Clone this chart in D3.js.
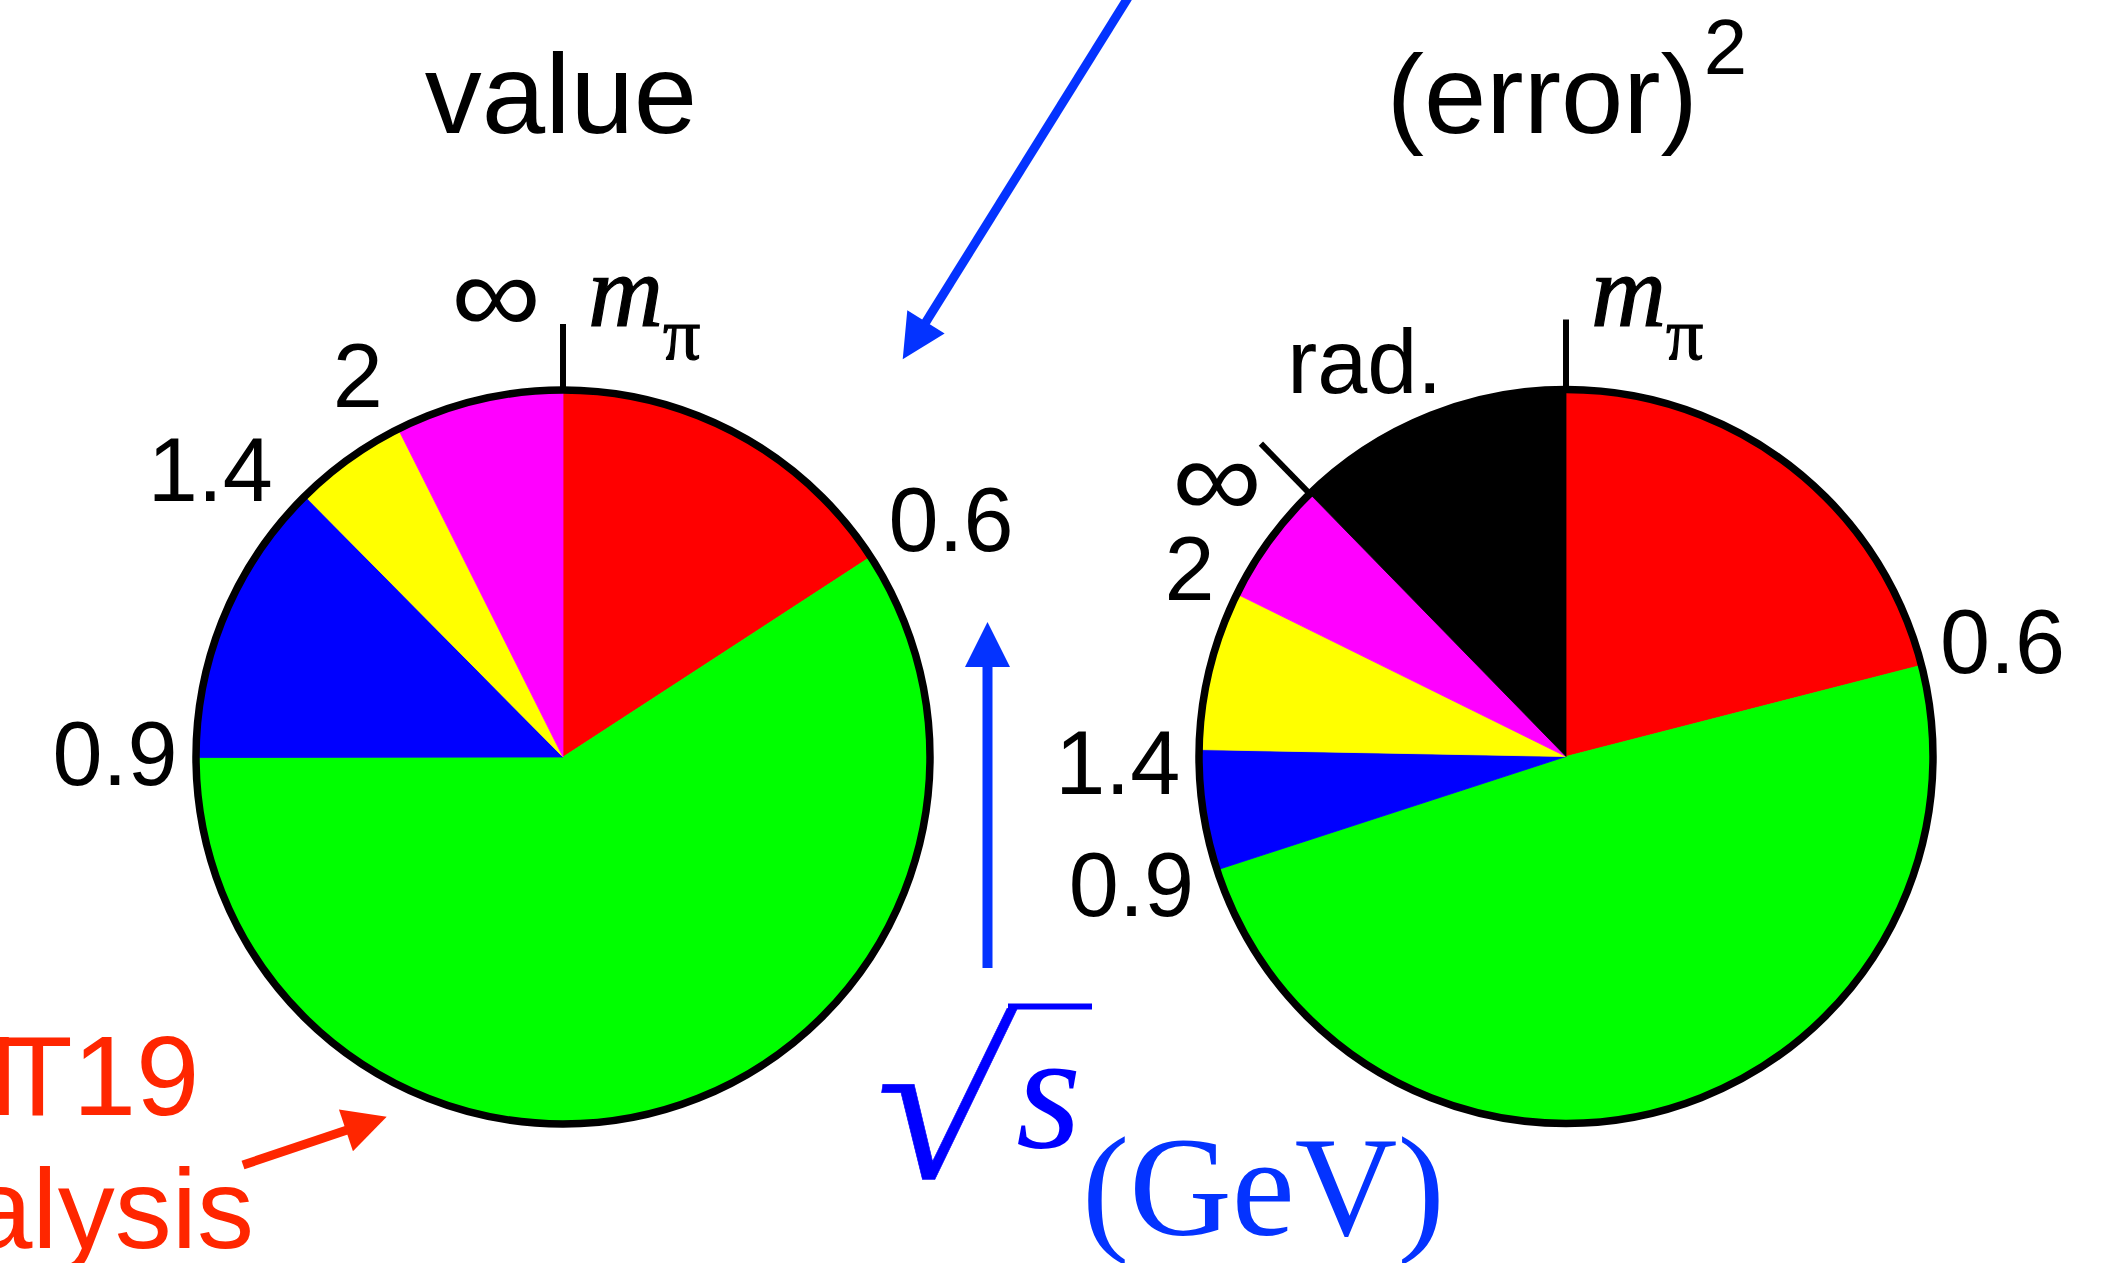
<!DOCTYPE html>
<html>
<head>
<meta charset="utf-8">
<script src="https://cdn.jsdelivr.net/npm/d3@7"></script>
<style>
  html, body { margin: 0; padding: 0; background: #fff; }
  svg { display: block; }
</style>
</head>
<body>
<script>
// Contribution of each √s range (GeV) to the hadronic result:
// share of the central value and share of the squared error.
const energyRanges   = ["mπ–0.6", "0.6–0.9", "0.9–1.4", "1.4–2", "2–∞"];
const boundaryLabels = ["0.6", "0.9", "1.4", "2", "∞"];
const valueShares    = [15.8, 59.1, 12.6, 5.0, 7.4];
const errorRanges    = ["mπ–0.6", "0.6–0.9", "0.9–1.4", "1.4–2", "2–∞", "rad."];
const errorShares    = [21.0, 49.0, 5.3, 7.0, 5.4, 12.3];
const sliceColors    = ["#ff0000", "#00ff00", "#0000ff", "#ffff00", "#ff00ff", "#000000"];

const W = 2126, H = 1263;
const R = 367;
const SANS  = "'Liberation Sans', Arial, Helvetica, sans-serif";
const SERIF = "'Liberation Serif', 'Times New Roman', serif";
const BLUE = "#0433ff", DEEP_BLUE = "#0000ff", RED = "#ff2600";

const svg = d3.select("body").append("svg")
  .attr("width", W).attr("height", H)
  .attr("viewBox", `0 0 ${W} ${H}`);
svg.append("rect").attr("width", W).attr("height", H).attr("fill", "#fff");

const pie = d3.pie().sort(null).value(d => d.share)
  .startAngle(0).endAngle(2 * Math.PI);
const arc = d3.arc().innerRadius(0).outerRadius(R);

// point at angle a (clockwise from 12 o'clock) and distance r from the centre
const polar = (a, r) => [r * Math.sin(a), -r * Math.cos(a)];

function drawPie(cfg) {
  const g = svg.append("g").attr("transform", `translate(${cfg.cx},${cfg.cy})`);
  const data = cfg.ranges.map((r, i) => ({ range: r, share: cfg.shares[i], color: sliceColors[i] }));
  const arcs = pie(data);

  g.selectAll("path.slice").data(arcs).join("path")
    .attr("class", "slice")
    .attr("d", arc)
    .attr("fill", d => d.data.color)
    .attr("stroke", d => d.data.color)
    .attr("stroke-width", 0.8)
    .attr("stroke-linejoin", "round");

  // rim
  g.append("circle").attr("r", R)
    .attr("fill", "none").attr("stroke", "#000").attr("stroke-width", 7.5);

  // ticks at the start (mπ) and at the ∞ boundary
  const tickAngles = [0, arcs[4].endAngle];
  g.selectAll("line.tick").data(tickAngles).join("line")
    .attr("class", "tick")
    .attr("x1", a => polar(a, R)[0]).attr("y1", a => polar(a, R)[1])
    .attr("x2", a => polar(a, R + cfg.tickLen)[0]).attr("y2", a => polar(a, R + cfg.tickLen)[1])
    .attr("stroke", "#000").attr("stroke-width", 6);

  // boundary labels, placed from the slice end angles
  boundaryLabels.forEach((txt, i) => {
    const n = cfg.nudge[i];
    const p = polar(arcs[i].endAngle, n.r || R);
    const lbl = g.append("text")
      .attr("x", p[0] + n.dx).attr("y", p[1] + n.dy)
      .attr("text-anchor", n.anchor)
      .attr("font-family", SANS)
      .attr("fill", "#000")
      .text(txt);
    if (txt === "∞") {
      lbl.attr("font-size", 112).attr("textLength", 90).attr("lengthAdjust", "spacingAndGlyphs");
    } else {
      lbl.attr("font-size", 90);
    }
  });

  // lower edge of the range: mπ
  const m = polar(0, R);
  const t = g.append("text")
    .attr("x", m[0] + 25).attr("y", m[1] - 64)
    .attr("font-family", SERIF).attr("fill", "#000")
    .attr("stroke", "#000").attr("stroke-width", 1.2);
  t.append("tspan").attr("font-style", "italic").attr("font-size", 104).text("m");
  t.append("tspan").attr("font-size", 74).attr("dy", 33).text("π");

  // radiative slice label
  if (cfg.ranges.length > 5) {
    const a = (arcs[5].startAngle + arcs[5].endAngle) / 2;
    const p = polar(a, R);
    g.append("text")
      .attr("x", p[0] - 63).attr("y", p[1] - 24)
      .attr("text-anchor", "middle")
      .attr("font-family", SANS).attr("font-size", 90)
      .attr("fill", "#000")
      .text(arcs[5].data.range);
  }
  return arcs;
}

drawPie({
  cx: 563, cy: 757, ranges: energyRanges, shares: valueShares, tickLen: 66,
  nudge: [
    { anchor: "start", dx: 18,    dy: -5.5 },
    { anchor: "end",   dx: -18.4, dy: 27.4 },
    { anchor: "end",   dx: -32,   dy: 5 },
    { anchor: "end",   dx: -15.5, dy: -22.4 },
    { anchor: "end",   dx: -22,   dy: -57.5 }
  ]
});

drawPie({
  cx: 1566, cy: 756.5, ranges: errorRanges, shares: errorShares, tickLen: 70,
  nudge: [
    { anchor: "start", dx: 18.6,  dy: 8 },
    { anchor: "end",   dx: -23,   dy: 46 },
    { anchor: "end",   dx: -18.7, dy: 44.4 },
    { anchor: "end",   dx: -22.3, dy: 5.5 },
    { anchor: "end",   dx: 1,     dy: 73, r: R + 70 }
  ]
});

// titles
svg.append("text")
  .attr("x", 561).attr("y", 133)
  .attr("text-anchor", "middle")
  .attr("font-family", SANS).attr("font-size", 114)
  .attr("fill", "#000")
  .text("value");

const et = svg.append("text")
  .attr("x", 1567).attr("y", 133)
  .attr("text-anchor", "middle")
  .attr("font-family", SANS).attr("fill", "#000");
et.append("tspan").attr("font-size", 112).text("(error)");
et.append("tspan").attr("font-size", 78).attr("dx", 6).attr("dy", -59).text("2");

// arrow helper: shaft from (x0,y0) to the tip, filled triangular head
function arrow(x0, y0, tipX, tipY, color, width, headLen, headHalf) {
  const dx = tipX - x0, dy = tipY - y0, L = Math.hypot(dx, dy);
  const ux = dx / L, uy = dy / L;
  const bx = tipX - ux * headLen, by = tipY - uy * headLen;
  svg.append("line")
    .attr("x1", x0).attr("y1", y0)
    .attr("x2", bx + ux * 2).attr("y2", by + uy * 2)
    .attr("stroke", color).attr("stroke-width", width);
  svg.append("path")
    .attr("d", d3.line()([
      [tipX, tipY],
      [bx - uy * headHalf, by + ux * headHalf],
      [bx + uy * headHalf, by - ux * headHalf]
    ]) + "Z")
    .attr("fill", color);
}

arrow(1139, -20, 902.7, 359.3, BLUE, 9, 44, 22);
arrow(987.5, 968, 987.5, 622, BLUE, 10, 45, 22.5);
arrow(243, 1165, 386.7, 1116.7, RED, 9, 43, 22);

// √s (GeV): radical stretched and slanted to a math-style proportion
svg.append("text")
  .attr("transform", "matrix(1.243,0,-0.166,1.13,863.3,1178)")
  .attr("font-family", SERIF).attr("font-size", 190)
  .attr("fill", DEEP_BLUE)
  .attr("stroke", DEEP_BLUE).attr("stroke-width", 0.5)
  .text("√");
svg.append("line")
  .attr("x1", 1008).attr("x2", 1092)
  .attr("y1", 1006.5).attr("y2", 1006.5)
  .attr("stroke", DEEP_BLUE).attr("stroke-width", 6);
svg.append("text")
  .attr("x", 1016).attr("y", 1147)
  .attr("font-family", SERIF).attr("font-style", "italic")
  .attr("font-size", 168).attr("fill", DEEP_BLUE)
  .text("s");
svg.append("text")
  .attr("x", 1082).attr("y", 1235)
  .attr("font-family", SERIF).attr("font-size", 142)
  .attr("fill", BLUE)
  .text("(GeV)");

// dataset label, running off the left edge
const red = svg.append("g").attr("fill", RED)
  .attr("font-family", SANS).attr("font-size", 114);
const k = red.append("text").attr("x", 199.5).attr("y", 1115).attr("text-anchor", "end");
k.append("tspan").text("KN");
k.append("tspan").attr("dx", -15).text("T19");
red.append("text").attr("x", 254).attr("y", 1248).attr("text-anchor", "end").text("analysis");
</script>
</body>
</html>
